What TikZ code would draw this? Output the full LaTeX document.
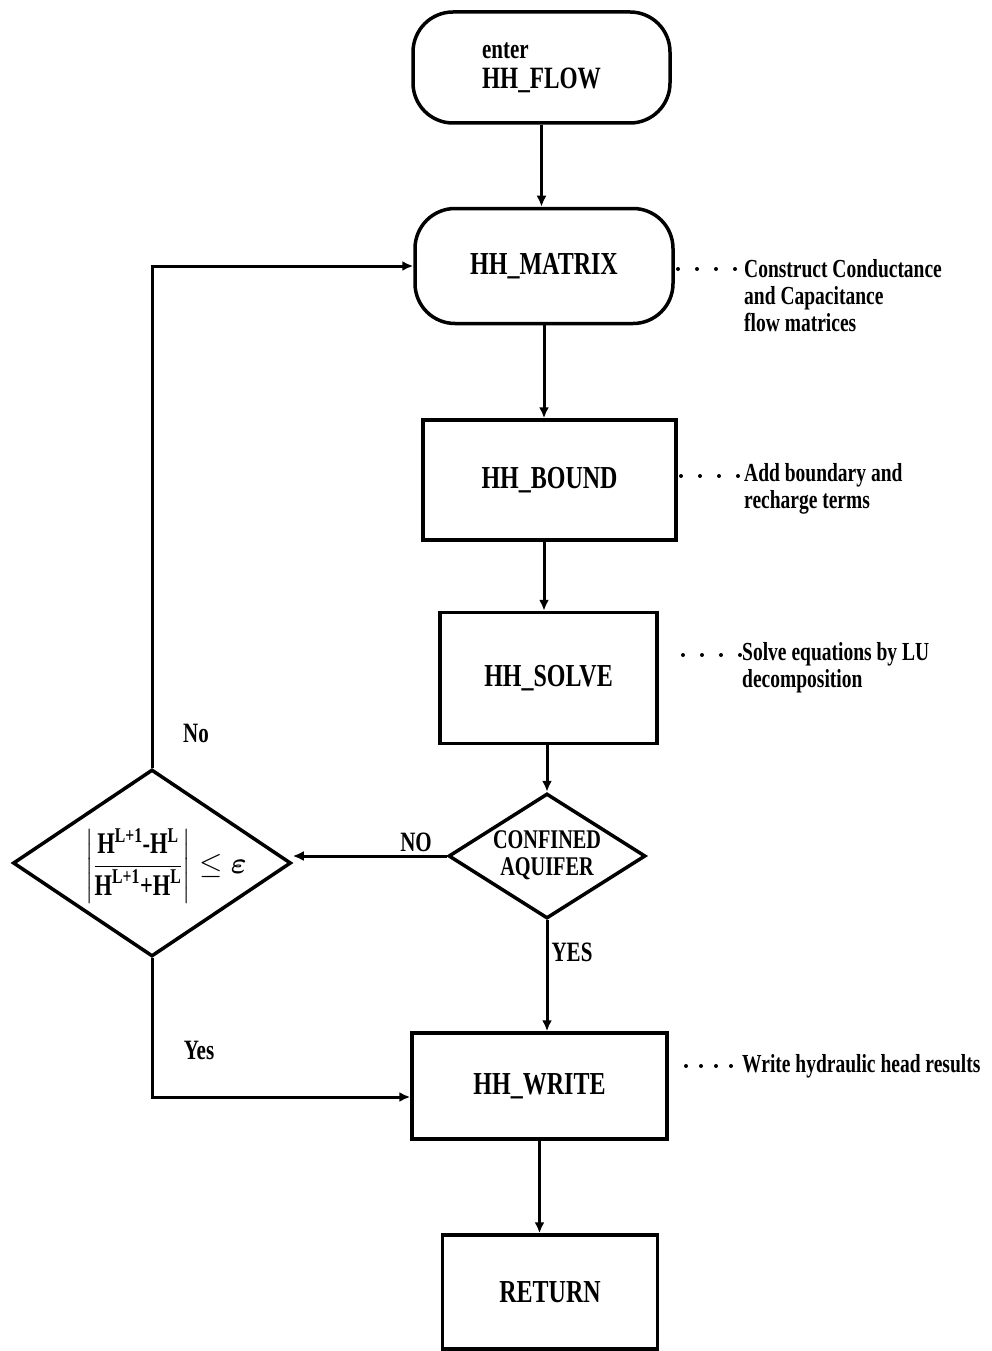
\documentclass[tikz,border=0pt]{standalone}
\usepackage{fix-cm}
\usepackage{amsmath}
\usepackage{fontspec}
\setmainfont{Liberation Serif}[FakeStretch=0.75]
\usetikzlibrary{shapes.geometric,arrows.meta,calc}
\begin{document}
\begin{tikzpicture}[x=1pt,y=-1pt,
  box/.style={draw,line width=3.5pt,inner sep=0pt,align=center,font=\bfseries\fontsize{32}{34}\selectfont},
  rbox/.style={box,rounded corners=40pt},
  dia/.style={draw,diamond,line width=3.5pt,inner sep=0pt,align=center},
  conn/.style={line width=3pt,-{Latex[length=11pt,width=10pt]}},
  dots/.style={line width=4pt,line cap=round,dash pattern=on 0pt off 19pt},
  lbl/.style={font=\bfseries\fontsize{28}{30}\selectfont,inner sep=0pt},
  note/.style={font=\bfseries\fontsize{26}{27}\selectfont,align=left,anchor=west,inner sep=0pt}]
\useasboundingbox (0,0) rectangle (992,1351);

% main nodes
\node[rbox,minimum width=257pt,minimum height=111pt,align=left,font=\bfseries\fontsize{31}{30}\selectfont] (flow) at (541.5,67.5) {{\fontsize{28}{30}\selectfont enter}\\HH\_FLOW};
\node[rbox,minimum width=258pt,minimum height=115pt] (matrix) at (544,266) {HH\_MATRIX};
\node[box,minimum width=253pt,minimum height=120pt] (bound) at (549.5,480) {HH\_BOUND};
\node[box,minimum width=217pt,minimum height=131pt] (solve) at (548.5,678) {HH\_SOLVE};
\node[dia,minimum width=197pt,minimum height=125pt] (conf) at (547,856) {};
\node[font=\bfseries\fontsize{27}{27}\selectfont,align=center,inner sep=0pt] (ctxt) at (547,855) {CONFINED\\AQUIFER};
\node[dia,minimum width=278pt,minimum height=187pt] (crit) at (152,863) {};
\node[font=\bfseries\fontsize{30}{34}\selectfont,inner sep=0pt] (ftxt) at (166,866)
  {$\left|\dfrac{\text{H}^{\text{L+1}}\text{-H}^{\text{L}}}{\text{H}^{\text{L+1}}\text{+H}^{\text{L}}}\right|\le\boldsymbol{\varepsilon}$};
\node[box,minimum width=255pt,minimum height=106pt] (write) at (539.5,1086) {HH\_WRITE};
\node[box,minimum width=215pt,minimum height=114pt] (return) at (550,1292) {RETURN};

% connectors
\draw[conn] (flow.south) -- (flow.south |- matrix.north);
\draw[conn] (matrix.south) -- (matrix.south |- bound.north);
\draw[conn] (matrix.south |- bound.south) -- (matrix.south |- solve.north);
\draw[conn] (solve.south -| conf.north) -- (conf.north);
\draw[conn] (conf.south) -- (conf.south |- write.north);
\draw[conn] (write.south) -- (write.south |- return.north);
\draw[conn] (conf.west) -- (conf.west -| crit.east);
\draw[conn] (crit.north) |- (matrix.west);
\draw[conn] (crit.south) |- ($(write.west)+(0,11)$);

% labels
\node[lbl] (lno) at (196,733) {No};
\node[lbl] (lyes) at (199,1050) {Yes};
\node[lbl] (lNO) at (416,842) {NO};
\node[lbl] (lYES) at (572,952) {YES};

% notes
\node[note] (nm) at (744,296) {Construct Conductance\\and Capacitance\\flow matrices};
\node[note] (nb) at (744,489) {Add boundary and\\recharge terms};
\node[note] (ns) at (742,668) {Solve equations by LU\\decomposition};
\node[note] (nw) at (742,1066) {Write hydraulic head results};

\coordinate (dm) at (678,269);
\coordinate (db) at (681,476);
\coordinate (ds) at (683,655);
\coordinate (dw) at (686,1066);
\draw[dots] (dm) -- (nm.west |- dm);
\draw[dots] (db) -- (nb.west |- db);
\draw[dots] (ds) -- (ns.west |- ds);
\draw[dots,dash pattern=on 0pt off 15pt] (dw) -- ($(nw.west |- dw)+(-10,0)$);
\end{tikzpicture}
\end{document}
